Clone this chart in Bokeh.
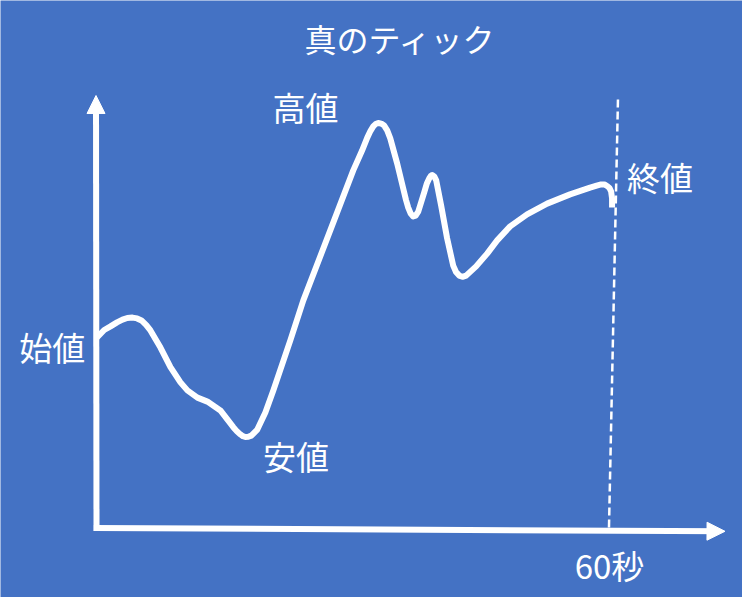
from bokeh.plotting import figure
from bokeh.models import Range1d, Arrow, NormalHead, Label, ColumnDataSource
from bokeh.embed import file_html
from bokeh.resources import INLINE

# ---- data (seconds, price units) ----
tick_t = [0.0, 0.9, 1.64, 2.4, 3.04, 3.6, 4.21, 4.75, 5.26, 5.8, 6.31, 7.48,
          8.65, 9.82, 10.63, 11.8, 12.97, 14.49, 16.0, 16.45, 16.83, 17.13,
          17.41, 17.75, 18.11, 18.81, 19.75, 20.68, 22.67, 24.19, 27.34, 30.03,
          31.05, 31.67, 32.05, 32.37, 32.65, 32.95, 33.3, 33.65, 34.0, 34.36,
          35.17, 35.87, 36.2, 36.46, 36.75, 37.04, 37.33, 37.63, 38.33, 38.65,
          38.91, 39.1, 39.26, 39.5, 39.73, 40.31, 41.01, 41.72, 42.05, 42.42,
          42.8, 43.23, 44.4, 45.69, 46.86, 48.38, 50.36, 52.7, 55.39, 57.73,
          58.5, 59.02, 59.4, 59.72, 60.0, 60.19, 60.3, 60.3]
tick_v = [47.5, 49.5, 50.4, 51.4, 52.1, 52.5, 52.6, 52.4, 51.9, 50.8, 49.4, 45.1,
          40.2, 36.4, 34.4, 32.6, 31.6, 29.4, 25.2, 24.1, 23.4, 22.95,
          22.75, 22.8, 23.1, 24.6, 28.9, 34.4, 46.9, 56.9, 74.4, 89.4,
          94.3, 97.6, 99.3, 100.4, 101.0, 101.25, 101.1, 100.6, 99.4, 97.4,
          91.1, 84.9, 82.0, 80.1, 78.6, 77.9, 78.1, 79.1, 83.9, 86.2,
          87.4, 88.0, 88.25, 87.9, 86.9, 80.6, 72.4, 65.6, 64.0, 63.1,
          62.8, 63.1, 65.4, 68.6, 71.9, 75.4, 78.4, 81.1, 83.4, 85.1,
          85.6, 85.9, 85.9, 85.5, 85.0, 84.1, 82.4, 80.1]

title_text = "真のティック"
label_texts = ["高値", "始値", "安値", "終値", "60秒"]
end_second = 60

# ---- layout ----
W, H = 742, 597
PX0, SEC_PX = 96.0, 8.55      # page pixel of t=0, pixels per second
PY0, V_PX = 527.5, 4.0        # page pixel of v=0, pixels per unit
OFF = 0

def tx(px):
    return (px - PX0) / SEC_PX

def vy(py):
    return (PY0 - py) / V_PX

BG = "#4472C4"
FONT = "Noto Sans CJK JP"

p = figure(width=W, height=H, output_backend="svg", toolbar_location=None,
           x_range=Range1d(tx(OFF), tx(OFF + W)),
           y_range=Range1d(vy(OFF + H), vy(OFF)),
           min_border=0, background_fill_color=BG, border_fill_color=BG,
           outline_line_color=None)
p.xaxis.visible = False
p.yaxis.visible = False
p.grid.visible = False

# axes with arrows
p.add_layout(Arrow(x_start=0, y_start=vy(530.5), x_end=tx(95.5), y_end=vy(95),
                   line_color="white", line_width=6,
                   end=NormalHead(size=18, fill_color="white", line_color="white")))
p.add_layout(Arrow(x_start=tx(93.3), y_start=vy(527.5), x_end=tx(724.5), y_end=vy(530.8),
                   line_color="white", line_width=6,
                   end=NormalHead(size=18, fill_color="white", line_color="white")))

# 60 s dashed marker
p.line([end_second - 0.06, end_second + 1.0], [vy(527), vy(95)],
       line_color="white", line_width=2.5, line_dash="8 4")

# tick price path
src = ColumnDataSource(dict(t=tick_t, v=tick_v))
p.line("t", "v", source=src, line_color="white", line_width=6,
       line_join="round", line_cap="butt")

# texts
p.add_layout(Label(x=tx(400), y=vy(37), text=title_text, text_align="center",
                   text_baseline="middle", text_color="white",
                   text_font=FONT, text_font_size="32px"))
label_pos = [(305, 106), (51.7, 346.5), (295.5, 455), (659.5, 176.5), (609, 564.5)]
for txt, (lx, ly) in zip(label_texts, label_pos):
    p.add_layout(Label(x=tx(lx), y=vy(ly), text=txt, text_align="center",
                       text_baseline="middle", text_color="white",
                       text_font=FONT, text_font_size="33px"))

open("out.html", "w").write(file_html(p, INLINE))
